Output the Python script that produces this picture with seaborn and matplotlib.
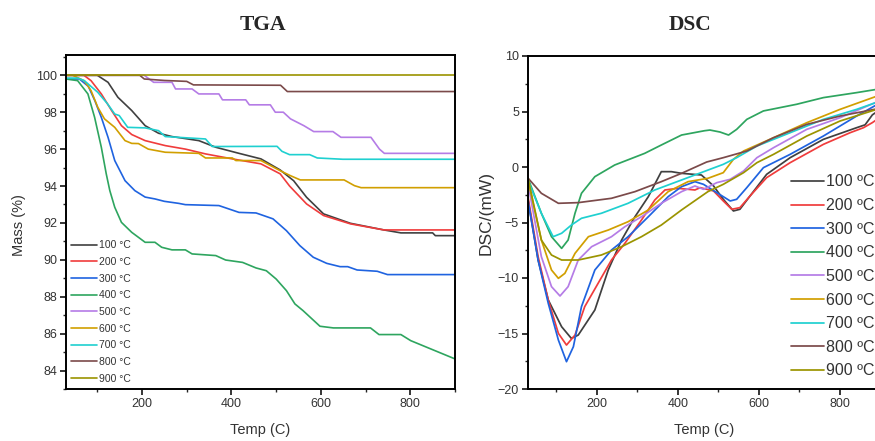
import numpy as np
import pandas as pd
import matplotlib
matplotlib.use("Agg")
import matplotlib.pyplot as plt
from matplotlib.ticker import MultipleLocator
import seaborn as sns

# ---------------- data ----------------
series_names = ["100", "200", "300", "400", "500", "600", "700", "800", "900"]
colors = ["#404040", "#f03c3c", "#1f63e0", "#2ea55f", "#b57ce6",
          "#d19f00", "#1fd0d0", "#7b4a4a", "#9b9400"]

# TGA (Temp, Mass %)
tga_100_T = [30, 100, 124, 146, 177, 207, 237, 267, 327, 365, 417, 466, 509, 539, 568, 606, 666, 741, 779, 850, 856, 900]
tga_100_M = [100, 100, 99.62, 98.81, 98.09, 97.27, 96.86, 96.68, 96.46, 96.1, 95.77, 95.47, 94.87, 94.29, 93.39, 92.49, 91.98, 91.62, 91.46, 91.46, 91.31, 91.31]
tga_200_T = [30, 70, 86, 109, 132, 154, 177, 207, 252, 297, 342, 402, 466, 509, 530, 568, 606, 666, 741, 900]
tga_200_M = [100, 100, 99.71, 98.99, 98.09, 97.27, 96.79, 96.46, 96.19, 96.0, 95.74, 95.47, 95.2, 94.66, 94.0, 93.03, 92.4, 91.95, 91.62, 91.62]
tga_300_T = [30, 60, 80, 95, 109, 124, 139, 162, 184, 207, 229, 250, 282, 297, 372, 417, 455, 493, 523, 553, 583, 613, 643, 660, 681, 726, 749, 900]
tga_300_M = [99.8, 99.8, 99.4, 98.6, 97.72, 96.64, 95.38, 94.29, 93.75, 93.4, 93.3, 93.17, 93.06, 92.99, 92.94, 92.57, 92.54, 92.22, 91.58, 90.77, 90.14, 89.81, 89.63, 89.63, 89.45, 89.38, 89.2, 89.2]
tga_400_T = [30, 56, 79, 94, 109, 120, 128, 139, 154, 177, 207, 229, 244, 267, 297, 312, 365, 387, 425, 455, 478, 500, 523, 542, 560, 598, 628, 711, 730, 779, 801, 900]
tga_400_M = [99.8, 99.71, 98.99, 97.72, 96.1, 94.66, 93.75, 92.85, 92.03, 91.49, 90.95, 90.95, 90.68, 90.54, 90.54, 90.32, 90.23, 89.99, 89.86, 89.56, 89.41, 88.96, 88.33, 87.61, 87.25, 86.4, 86.31, 86.31, 85.95, 85.95, 85.62, 84.63]
tga_500_T = [30, 205, 226, 267, 275, 312, 327, 372, 380, 432, 440, 487, 498, 516, 532, 562, 584, 627, 645, 712, 731, 742, 900]
tga_500_M = [100, 100, 99.62, 99.62, 99.26, 99.26, 98.99, 98.99, 98.67, 98.67, 98.4, 98.4, 98.0, 98.0, 97.64, 97.27, 96.95, 96.95, 96.64, 96.64, 96.0, 95.77, 95.77]
tga_600_T = [30, 45, 71, 86, 101, 116, 139, 162, 177, 192, 214, 252, 327, 342, 402, 410, 466, 509, 532, 554, 652, 675, 690, 900]
tga_600_M = [100, 100, 99.7, 99.17, 98.27, 97.64, 97.18, 96.46, 96.31, 96.3, 96.0, 95.83, 95.77, 95.52, 95.52, 95.38, 95.38, 94.83, 94.56, 94.33, 94.33, 94.02, 93.91, 93.91]
tga_700_T = [30, 56, 71, 101, 123, 139, 149, 168, 207, 237, 252, 342, 357, 502, 513, 530, 575, 592, 649, 900]
tga_700_M = [99.85, 99.85, 99.71, 99.08, 98.45, 97.9, 97.82, 97.18, 97.15, 97.0, 96.68, 96.55, 96.14, 96.15, 95.88, 95.7, 95.7, 95.52, 95.45, 95.45]
tga_800_T = [30, 195, 205, 250, 300, 315, 510, 525, 900]
tga_800_M = [100, 100, 99.8, 99.72, 99.67, 99.48, 99.46, 99.12, 99.12]
tga_900_T = [30, 900]
tga_900_M = [100, 100]

# DSC (Temp, mW)
dsc_100_T = [30, 55, 80, 113, 137, 154, 195, 228, 261, 294, 327, 359, 384, 409, 458, 488, 512, 537, 553, 578, 619, 677, 759, 841, 862, 880, 900]
dsc_100_D = [-2.97, -8.38, -11.98, -14.39, -15.44, -15.14, -12.88, -9.28, -6.58, -4.48, -2.67, -0.42, -0.42, -0.57, -0.72, -1.71, -2.91, -3.96, -3.81, -2.61, -0.66, 0.84, 2.49, 3.54, 3.8, 4.7, 5.2]
dsc_200_T = [30, 55, 80, 105, 125, 146, 170, 203, 236, 269, 310, 343, 368, 400, 442, 455, 488, 512, 533, 553, 578, 619, 677, 759, 825, 858, 880, 900]
dsc_200_D = [-2.7, -8.08, -11.98, -14.99, -16.04, -15.14, -12.58, -10.48, -8.38, -6.88, -4.78, -2.97, -2.07, -1.92, -2.07, -1.86, -2.16, -3.06, -3.81, -3.66, -2.61, -0.96, 0.39, 2.04, 3.09, 3.54, 4.0, 4.5]
dsc_300_T = [30, 55, 80, 105, 125, 142, 162, 195, 236, 277, 327, 376, 409, 442, 463, 496, 529, 545, 570, 611, 677, 759, 841, 900]
dsc_300_D = [-3.0, -8.4, -12.28, -15.59, -17.54, -16.19, -12.58, -9.28, -7.48, -6.28, -4.48, -2.67, -1.77, -1.32, -1.56, -2.31, -3.06, -2.91, -1.86, -0.06, 1.14, 2.79, 4.59, 5.8]
dsc_400_T = [30, 63, 88, 113, 129, 146, 162, 195, 244, 318, 359, 409, 466, 479, 504, 525, 545, 570, 611, 693, 759, 841, 900]
dsc_400_D = [-1.02, -4.17, -6.28, -7.33, -6.58, -4.17, -2.37, -0.87, 0.18, 1.23, 1.98, 2.88, 3.27, 3.33, 3.15, 2.88, 3.39, 4.29, 5.05, 5.65, 6.25, 6.7, 7.05]
dsc_500_T = [30, 63, 88, 109, 129, 154, 187, 236, 269, 310, 359, 409, 442, 463, 496, 529, 562, 595, 636, 718, 800, 900]
dsc_500_D = [-1.5, -8.08, -10.78, -11.62, -10.78, -8.38, -7.18, -6.28, -5.38, -4.48, -3.27, -2.22, -1.71, -2.01, -1.41, -1.11, -0.36, 0.84, 1.74, 3.39, 4.44, 6.0]
dsc_600_T = [30, 63, 88, 105, 121, 146, 179, 228, 277, 327, 376, 425, 474, 512, 537, 562, 636, 718, 800, 900]
dsc_600_D = [-1.2, -6.58, -9.28, -10.03, -9.58, -7.78, -6.28, -5.68, -4.93, -3.87, -2.22, -1.32, -1.02, -0.51, 0.69, 1.44, 2.64, 3.99, 5.19, 6.5]
dsc_700_T = [30, 63, 92, 113, 137, 162, 211, 277, 343, 409, 479, 512, 545, 595, 677, 759, 841, 900]
dsc_700_D = [-1.2, -4.17, -6.28, -5.97, -5.23, -4.62, -4.17, -3.27, -2.07, -1.17, -0.21, 0.24, 0.84, 1.89, 3.09, 4.29, 5.19, 5.95]
dsc_800_T = [30, 63, 105, 154, 236, 294, 359, 409, 471, 512, 570, 636, 718, 800, 900]
dsc_800_D = [-1.0, -2.37, -3.27, -3.21, -2.82, -2.22, -1.32, -0.57, 0.45, 0.84, 1.44, 2.64, 3.84, 4.59, 5.3]
dsc_900_T = [30, 63, 88, 113, 154, 211, 261, 310, 359, 409, 474, 512, 562, 595, 636, 718, 800, 900]
dsc_900_D = [-1.0, -6.58, -7.93, -8.38, -8.38, -7.93, -7.18, -6.28, -5.23, -3.87, -2.22, -1.56, -0.51, 0.39, 1.14, 2.79, 4.14, 5.3]

tga_T = [tga_100_T, tga_200_T, tga_300_T, tga_400_T, tga_500_T, tga_600_T, tga_700_T, tga_800_T, tga_900_T]
tga_M = [tga_100_M, tga_200_M, tga_300_M, tga_400_M, tga_500_M, tga_600_M, tga_700_M, tga_800_M, tga_900_M]
dsc_T = [dsc_100_T, dsc_200_T, dsc_300_T, dsc_400_T, dsc_500_T, dsc_600_T, dsc_700_T, dsc_800_T, dsc_900_T]
dsc_D = [dsc_100_D, dsc_200_D, dsc_300_D, dsc_400_D, dsc_500_D, dsc_600_D, dsc_700_D, dsc_800_D, dsc_900_D]

tga_labels = [s + " \u00b0C" for s in series_names]
dsc_labels = [s + " \u00baC" for s in series_names]

tga_df = pd.concat([pd.DataFrame({"T": t, "V": v, "s": lab})
                    for t, v, lab in zip(tga_T, tga_M, tga_labels)], ignore_index=True)
dsc_df = pd.concat([pd.DataFrame({"T": t, "V": v, "s": lab})
                    for t, v, lab in zip(dsc_T, dsc_D, dsc_labels)], ignore_index=True)

# ---------------- style ----------------
sns.set_theme(style="ticks")
plt.rcParams["font.family"] = ["Liberation Sans", "DejaVu Sans"]
plt.rcParams["axes.linewidth"] = 1.4

fig = plt.figure(figsize=(8.75, 4.41), dpi=100)
W, H = 875.0, 441.0
ax1 = fig.add_axes([66 / W, (H - 389) / H, 389 / W, 334 / H])
ax2 = fig.add_axes([528 / W, (H - 389) / H, 352.5 / W, 333 / H])


def style_axes(ax):
    for sp in ax.spines.values():
        sp.set_visible(True)
        sp.set_color("black")
        sp.set_linewidth(1.4)
    ax.tick_params(axis="both", which="major", direction="out", length=4.5,
                   width=1.1, labelsize=9, pad=2, colors="black")
    ax.tick_params(axis="both", which="minor", direction="out", length=2.5, width=1.0)
    ax.tick_params(top=False, right=False, which="both")
    for lab in ax.get_xticklabels() + ax.get_yticklabels():
        lab.set_color("#333333")


sns.lineplot(data=tga_df, x="T", y="V", hue="s", hue_order=tga_labels,
             palette=colors, estimator=None, sort=False, lw=1.2, ax=ax1)
sns.lineplot(data=dsc_df, x="T", y="V", hue="s", hue_order=dsc_labels,
             palette=colors, estimator=None, sort=False, lw=1.25, ax=ax2)

# TGA axes
ax1.set_xlim(30, 900)
ax1.set_ylim(83.0, 101.1)
ax1.set_xticks([200, 400, 600, 800])
ax1.xaxis.set_minor_locator(MultipleLocator(100))
ax1.yaxis.set_major_locator(MultipleLocator(2))
ax1.yaxis.set_minor_locator(MultipleLocator(1))
style_axes(ax1)
ax1.set_xlabel("Temp (C)", fontsize=10.5, color="#333333")
ax1.set_ylabel("Mass (%)", fontsize=10.5, color="#333333")
ax1.xaxis.set_label_coords(0.5, -0.103)
ax1.yaxis.set_label_coords(-0.102, 0.49)

h, l = ax1.get_legend_handles_labels()
ax1.legend(h, l, loc="lower left", bbox_to_anchor=(0.0, 0.0), frameon=False,
           fontsize=7.5, handlelength=2.5, handletextpad=0.2, labelspacing=0.64,
           borderaxespad=0.2, borderpad=0.3, labelcolor="#333333")

# DSC axes
ax2.set_xlim(30, 900)
ax2.set_ylim(-20, 10)
ax2.set_xticks([200, 400, 600, 800])
ax2.xaxis.set_minor_locator(MultipleLocator(100))
ax2.yaxis.set_major_locator(MultipleLocator(5))
ax2.yaxis.set_minor_locator(MultipleLocator(2.5))
style_axes(ax2)
ax2.set_xlabel("Temp (C)", fontsize=10.5, color="#333333")
ax2.set_ylabel("DSC/(mW)", fontsize=12.5, color="#333333")
ax2.xaxis.set_label_coords(0.5, -0.103)
ax2.yaxis.set_label_coords(-0.097, 0.528)

h, l = ax2.get_legend_handles_labels()
ax2.legend(h, l, loc="lower left", bbox_to_anchor=(0.738, 0.022), frameon=False,
           fontsize=11.5, handlelength=2.05, handletextpad=0.1, labelspacing=0.54,
           borderaxespad=0.0, borderpad=0.2, labelcolor="#333333")

# titles
fig.text(263 / W, 1 - 25 / H, "TGA", ha="center", va="center", fontsize=15.5,
         fontweight="bold", family="Liberation Serif")
fig.text(690 / W, 1 - 25 / H, "DSC", ha="center", va="center", fontsize=15.5,
         fontweight="bold", family="Liberation Serif")

fig.savefig("out.png", dpi=100)
